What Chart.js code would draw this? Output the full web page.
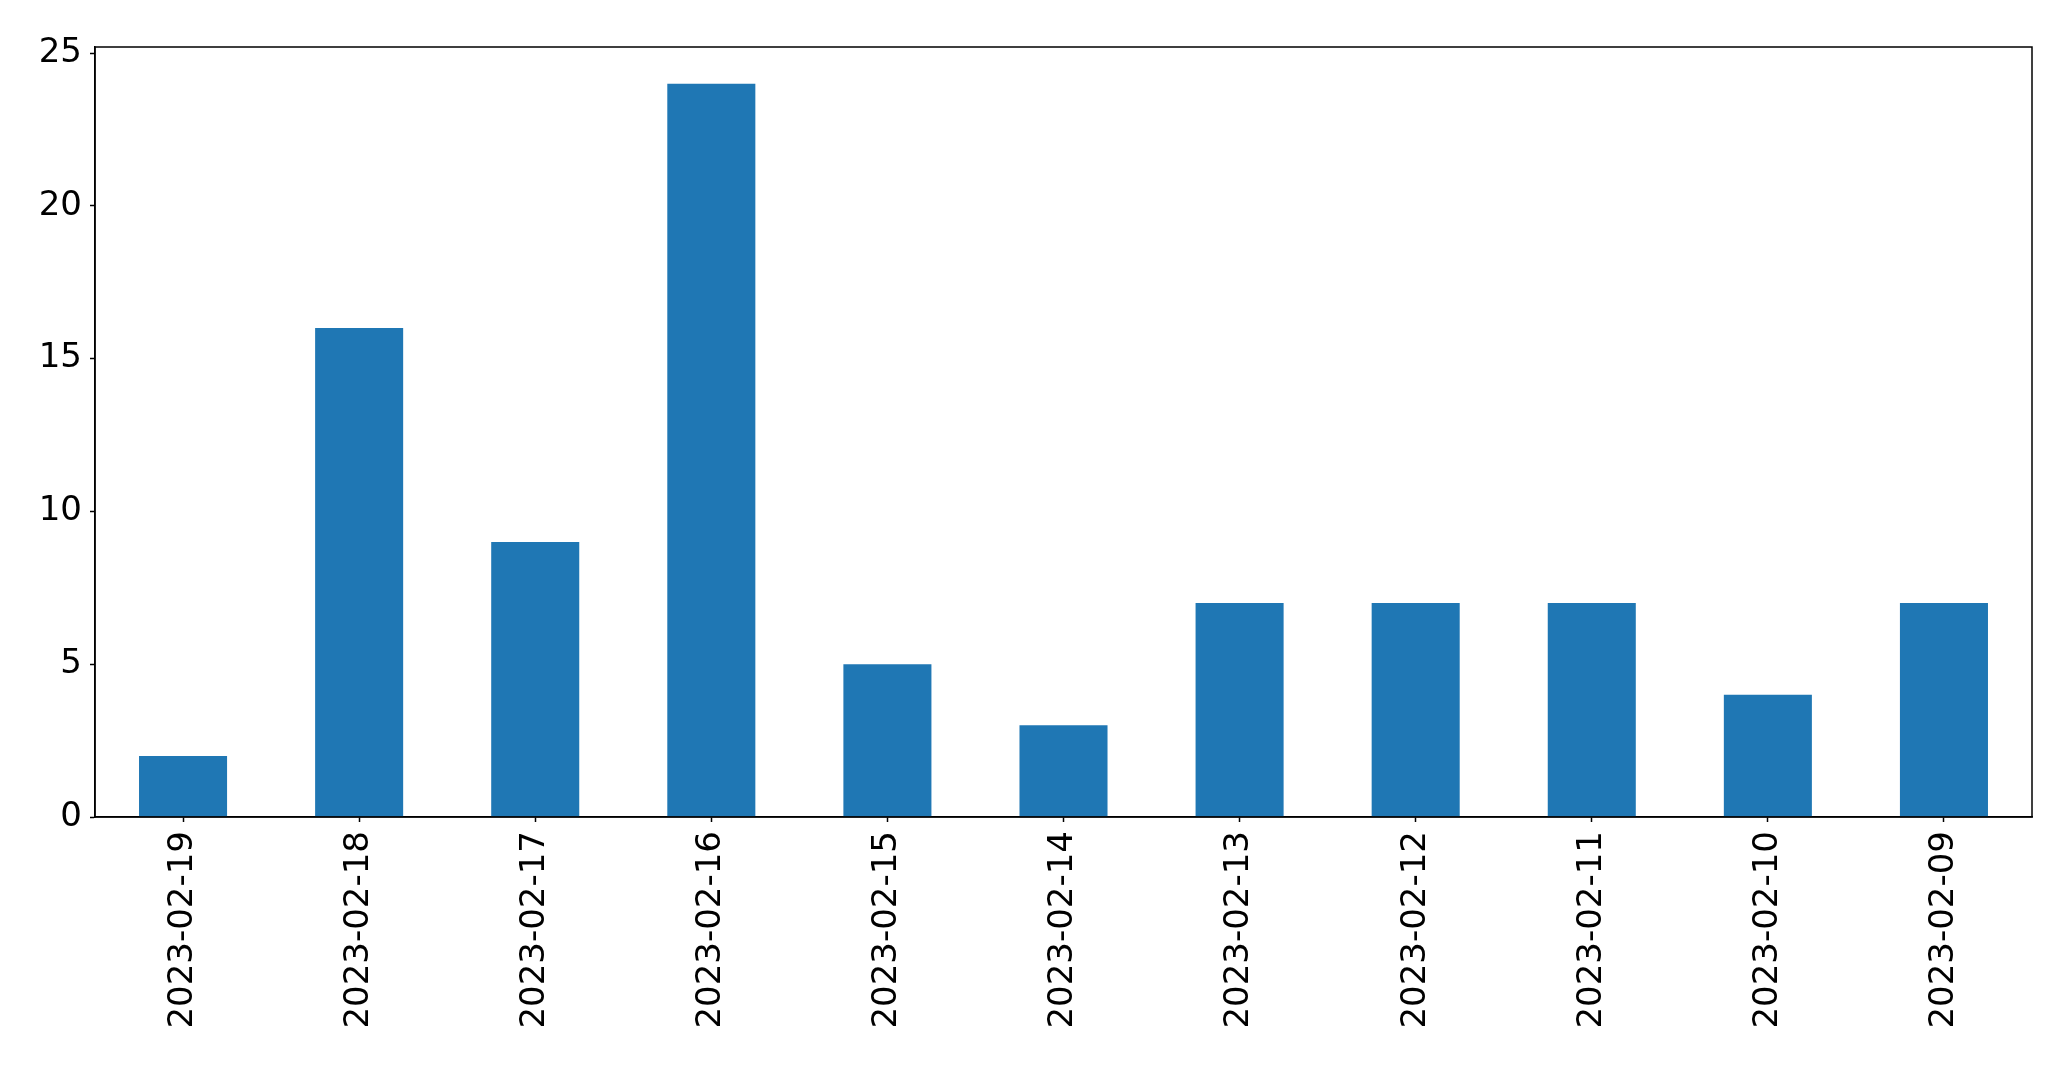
<!DOCTYPE html>
<html>
<head>
<meta charset="utf-8">
<script src="https://cdn.jsdelivr.net/npm/chart.js@4.4.0/dist/chart.umd.min.js"></script>
<style>
    html, body { margin: 0; padding: 0; background: #ffffff; }
    #wrap { width: 2071px; height: 1069px; position: relative; }
</style>
</head>
<body>
<div id="wrap"><canvas id="barChart"></canvas></div>
<script>
// Data
const dates = ['2023-02-19', '2023-02-18', '2023-02-17', '2023-02-16', '2023-02-15',
               '2023-02-14', '2023-02-13', '2023-02-12', '2023-02-11', '2023-02-10', '2023-02-09'];
const counts = [2, 16, 9, 24, 5, 3, 7, 7, 7, 4, 7];
const yTicks = [0, 5, 10, 15, 20, 25];

const barColor = '#1f77b4';
const font = { family: '"DejaVu Sans", sans-serif', size: 34 };

// Draw the full axes frame (top and right sides too)
const framePlugin = {
    id: 'frame',
    afterDraw(chart) {
        const { ctx, chartArea: a } = chart;
        ctx.save();
        ctx.strokeStyle = '#000';
        ctx.lineWidth = 1.5;
        ctx.strokeRect(a.left, a.top, a.right - a.left, a.bottom - a.top);
        ctx.restore();
    }
};

new Chart(document.getElementById('barChart'), {
    type: 'bar',
    data: {
        labels: dates,
        datasets: [{
            data: counts,
            backgroundColor: barColor,
            borderWidth: 0,
            categoryPercentage: 1.0,
            barPercentage: 0.5
        }]
    },
    options: {
        responsive: true,
        maintainAspectRatio: false,
        animation: false,
        events: [],
        plugins: {
            legend: { display: false },
            tooltip: { enabled: false }
        },
        layout: {
            padding: { top: 47, right: 39, bottom: 0, left: 0 }
        },
        scales: {
            x: {
                offset: true,
                grid: {
                    display: true,
                    drawOnChartArea: false,
                    drawTicks: true,
                    tickLength: 5,
                    tickWidth: 1.5,
                    color: '#000',
                    offset: false
                },
                border: { display: true, color: '#000', width: 1.5 },
                ticks: {
                    color: '#000',
                    font: font,
                    padding: 9,
                    minRotation: 90,
                    maxRotation: 90,
                    autoSkip: false
                },
                afterFit(scale) { scale.height = 252; }
            },
            y: {
                min: 0,
                max: 25.2,
                grid: {
                    display: true,
                    drawOnChartArea: false,
                    drawTicks: true,
                    tickLength: 5,
                    tickWidth: 1.5,
                    color: '#000'
                },
                border: { display: true, color: '#000', width: 1.5 },
                ticks: {
                    color: '#000',
                    font: font,
                    padding: 8,
                    stepSize: 5,
                    includeBounds: false
                },
                afterBuildTicks(scale) {
                    scale.ticks = yTicks.map(v => ({ value: v }));
                },
                afterFit(scale) { scale.width = 95; }
            }
        }
    },
    plugins: [framePlugin]
});
</script>
</body>
</html>
